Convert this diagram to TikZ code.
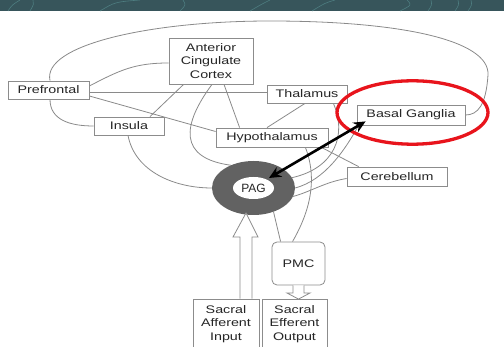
\documentclass[tikz,border=0pt]{standalone}
\usepackage{fontspec}
\setmainfont{Liberation Sans}[FakeStretch=1.3]
\newfontfamily\pagfont{Liberation Sans}
\usetikzlibrary{shapes.geometric,arrows.meta,calc}
\pgfdeclarelayer{background}
\pgfsetlayers{background,main}
\definecolor{band}{HTML}{37555B}
\definecolor{bandline}{HTML}{4E7D80}
\definecolor{boxgray}{HTML}{8C8C8C}
\definecolor{linegray}{HTML}{8A8A8A}
\definecolor{txt}{HTML}{262626}
\definecolor{ringgray}{HTML}{626262}
\definecolor{hired}{HTML}{E8141C}
\tikzset{
  box/.style={draw=boxgray, fill=white, line width=0.8pt, inner sep=0pt, text=txt,
    font=\fontsize{11}{13.5}\selectfont, align=center},
  conn/.style={draw=linegray, line width=0.8pt},
  hollow/.style={draw=boxgray, fill=white, line width=0.8pt, line join=miter},
  bandstroke/.style={draw=bandline, line width=0.6pt},
  dblarrow/.style={line width=2.6pt, {Stealth[length=12pt,width=11pt]}-{Stealth[length=12pt,width=11pt]}}
}
\begin{document}
\begin{tikzpicture}[x=1pt,y=-1pt]
\useasboundingbox (0,0) rectangle (504,347);
% top band
\fill[band] (0,0) rectangle (504,11);
\draw[bandstroke] (8,11) .. controls (12,5) .. (20,0);
\draw[bandstroke] (30,11) .. controls (34,4) .. (33,0);
\draw[bandstroke] (100,11) .. controls (115,2) .. (140,0);
\draw[bandstroke] (180,11) .. controls (186,5) .. (183,0);
\draw[bandstroke] (250,11) .. controls (262,4) .. (270,0);
\draw[bandstroke] (312,11) .. controls (325,3) .. (335,0);
\draw[bandstroke] (400,11) .. controls (412,5) .. (407,0);
\draw[bandstroke] (428,11) .. controls (432,5) .. (431,0);
\draw[bandstroke] (455,11) .. controls (459,5) .. (458,0);
\draw[bandstroke] (468,11) .. controls (472,5) .. (471,0);

% boxes
\node[box, minimum width=81pt, minimum height=18pt] (pref) at (48.5,90) {Prefrontal};
\node[box, minimum width=84pt, minimum height=46pt] (acc) at (211,61) {Anterior\\Cingulate\\Cortex};
\node[box, minimum width=80pt, minimum height=18pt] (thal) at (307,94) {Thalamus};
\node[box, minimum width=108pt, minimum height=20pt] (bg) at (411,115) {Basal Ganglia};
\node[box, minimum width=70pt, minimum height=18pt] (ins) at (129,126) {Insula};
\node[box, minimum width=112pt, minimum height=19pt] (hyp) at (272,137.5) {Hypothalamus};
\node[box, minimum width=100pt, minimum height=19pt] (cer) at (397,176.5) {Cerebellum};
\node[box, rounded corners=5pt, minimum width=53pt, minimum height=43pt] (pmc) at (298.5,263.5) {PMC};
\node[box, minimum width=66pt, minimum height=50pt] (sai) at (226,324) {Sacral\\Afferent\\Input};
\node[box, minimum width=65pt, minimum height=50pt] (seo) at (294.5,324) {Sacral\\Efferent\\Output};

% PAG ring
\node[ellipse, fill=ringgray, minimum width=83pt, minimum height=54pt, inner sep=0pt] (pag) at (253.5,188) {};
\node[ellipse, fill=white, minimum width=41pt, minimum height=22pt, inner sep=0pt, text=txt,
  font=\pagfont\fontsize{12}{13}\selectfont] (pagin) at (pag.center) {PAG};

% connectors
\begin{pgfonlayer}{background}
\draw[conn] ($(pref.north)+(1.5,0)$) .. controls (42,45) and (150,21) .. (270,21)
  .. controls (400,21) and (490,40) .. (488,75)
  .. controls (486,105) and (478,115) .. (bg.east);
\draw[conn] ($(pref.east)+(0,-4)$) .. controls (120,70) and (135,63) .. ($(acc.west)+(0,2)$);
\draw[conn] ($(pref.east)+(0,2.5)$) -- ($(thal.west)+(0,-1.5)$);
\draw[conn] ($(pref.east)+(0,6)$) -- ($(hyp.west)+(0,-6)$);
\draw[conn] ($(pref.south)+(1.5,0)$) .. controls (50,120) and (70,126) .. (ins.west);
\draw[conn] ($(ins.north)+(21,0)$) -- ($(acc.south west)+(15,0)$);
\draw[conn] ($(ins.south)+(-1,0)$) .. controls (135,172) and (175,188) .. (pag.west);
\draw[conn] ($(acc.south)+(1,0)$) .. controls (182,125) and (178,158) .. (pag.135);
\draw[conn] ($(acc.south)+(13,0)$) -- ($(hyp.north west)+(24,0)$);
\draw[conn] ($(thal.south)+(-2,0)$) -- ($(hyp.north)+(-5,0)$);
\draw[conn] ($(thal.south east)+(-14,0)$) .. controls (347,135) and (335,168) .. (pag.15);
\draw[conn] ($(bg.south west)+(2,0)$) .. controls (345,150) and (325,180) .. (pag.0);
\draw[conn] ($(cer.west)+(0,2)$) .. controls (325,182) and (310,192) .. (pag.-12);
\draw[conn] ($(hyp.south east)+(-7,0)$) -- ($(cer.north west)+(12,0)$);
\draw[conn] ($(hyp.south east)+(-23,0)$) .. controls (320,185) and (305,220) .. ($(pmc.north)+(-6,0)$);
\draw[conn] (pag.-50) -- ($(pmc.north west)+(9,0)$);
\end{pgfonlayer}

% hollow arrows
\path[hollow] ($(sai.north)+(14,0)$) -- (240,237) -- (233,237) -- (246,213) -- (258,237) -- (252,237) -- ($(sai.north)+(26,0)$);
\path[hollow] ($(pmc.south)+(-5.5,0)$) -- (293,293) -- (287,293) -- ($(seo.north)+(4,0.5)$) -- (310,293) -- (304,293) -- ($(pmc.south)+(5.5,0)$);

% red ellipse and black double arrow
\draw[hired, line width=3.3pt] (412.5,112.5) ellipse [x radius=75.5, y radius=31.7];
\coordinate (dA) at ($(bg.south west)+(9,-4)$);
\coordinate (dB) at ($(pag.center)+(15.5,-10)$);
\draw[dblarrow] (dA) -- (dB);
\end{tikzpicture}
\end{document}
